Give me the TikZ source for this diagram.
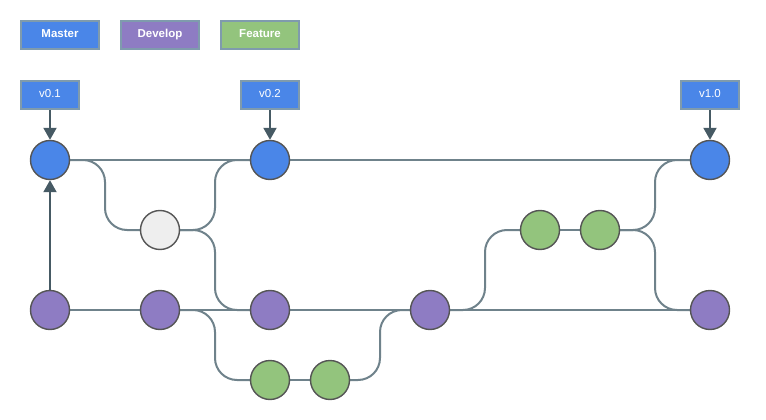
\documentclass[tikz,border=0pt]{standalone}
\usepackage{fontspec}
\setmainfont{Liberation Sans}
\usetikzlibrary{calc,backgrounds,arrows.meta}
\definecolor{masterc}{HTML}{4A86E8}
\definecolor{developc}{HTML}{8E7CC3}
\definecolor{featurec}{HTML}{93C47D}
\definecolor{hotfixc}{HTML}{EEEEEE}
\definecolor{framec}{HTML}{7F9BAD}
\definecolor{ringc}{HTML}{555555}
\definecolor{linkc}{HTML}{6F828B}
\definecolor{tagarrowc}{HTML}{465A64}
\begin{document}
\begin{tikzpicture}[x=1pt,y=-1pt,
  legendbox/.style={draw=framec,line width=2pt,minimum width=78pt,minimum height=28pt,
    inner sep=0pt,text height=8.5pt,text depth=2.5pt,text=white,
    font=\fontsize{11.5}{13}\selectfont\bfseries},
  tagbox/.style={draw=framec,line width=2pt,fill=masterc,minimum width=58pt,minimum height=28pt,
    inner sep=0pt,text height=8.5pt,text depth=2.5pt,text=white,
    font=\fontsize{11.5}{13}\selectfont},
  commit/.style={circle,draw=ringc,line width=1.4pt,minimum size=39pt,inner sep=0pt},
  mastercommit/.style={commit,fill=masterc},
  developcommit/.style={commit,fill=developc},
  featurecommit/.style={commit,fill=featurec},
  hotfixcommit/.style={commit,fill=hotfixc},
  link/.style={draw=linkc,line width=2pt,rounded corners=22pt},
  tagarrow/.style={draw=tagarrowc,line width=2pt,-{Triangle[length=12pt,width=13pt]}}
]
\useasboundingbox (0,0) rectangle (766,420);

% legend
\node[legendbox,fill=masterc]  (lmaster)  at (60,35)  {Master};
\node[legendbox,fill=developc] (ldevelop) at (160,35) {Develop};
\node[legendbox,fill=featurec] (lfeature) at (260,35) {Feature};

% version tags
\node[tagbox] (t01) at (50,95)  {v0.1};
\node[tagbox] (t02) at (270,95) {v0.2};
\node[tagbox] (t10) at (710,95) {v1.0};

% master branch
\node[mastercommit] (m1) at (50,160)  {};
\node[mastercommit] (m2) at (270,160) {};
\node[mastercommit] (m3) at (710,160) {};

% hotfix / release commit
\node[hotfixcommit] (h1) at (160,230) {};

% develop branch
\node[developcommit] (d1) at (50,310)  {};
\node[developcommit] (d2) at (160,310) {};
\node[developcommit] (d3) at (270,310) {};
\node[developcommit] (d4) at (430,310) {};
\node[developcommit] (d5) at (710,310) {};

% feature branches
\node[featurecommit] (f1) at (270,380) {};
\node[featurecommit] (f2) at (330,380) {};
\node[featurecommit] (f3) at (540,230) {};
\node[featurecommit] (f4) at (600,230) {};

% tag arrows
\draw[tagarrow] (t01.south) -- (m1.north);
\draw[tagarrow] (t02.south) -- (m2.north);
\draw[tagarrow] (t10.south) -- (m3.north);
\draw[tagarrow] (d1.north) -- (m1.south);

% S-shaped branch/merge connector: horizontal, vertical half-way, horizontal
\newcommand{\sbend}[2]{%
  \draw[link] (#1.east) -| ($(#2.west)!.5!(#1.east |- #2.west)$) -- (#2.west);}

\begin{scope}[on background layer]
  % straight history lines
  \draw[link] (m1.east) -- (m2.west);
  \draw[link] (m2.east) -- (m3.west);
  \draw[link] (d1.east) -- (d2.west);
  \draw[link] (d2.east) -- (d3.west);
  \draw[link] (d3.east) -- (d4.west);
  \draw[link] (d4.east) -- (d5.west);
  \draw[link] (f1.east) -- (f2.west);
  \draw[link] (f3.east) -- (f4.west);
  % branch and merge curves
  \sbend{m1}{h1}
  \sbend{h1}{m2}
  \sbend{h1}{d3}
  \sbend{d2}{f1}
  \sbend{f2}{d4}
  \sbend{d4}{f3}
  \sbend{f4}{m3}
  \sbend{f4}{d5}
\end{scope}
\end{tikzpicture}
\end{document}
